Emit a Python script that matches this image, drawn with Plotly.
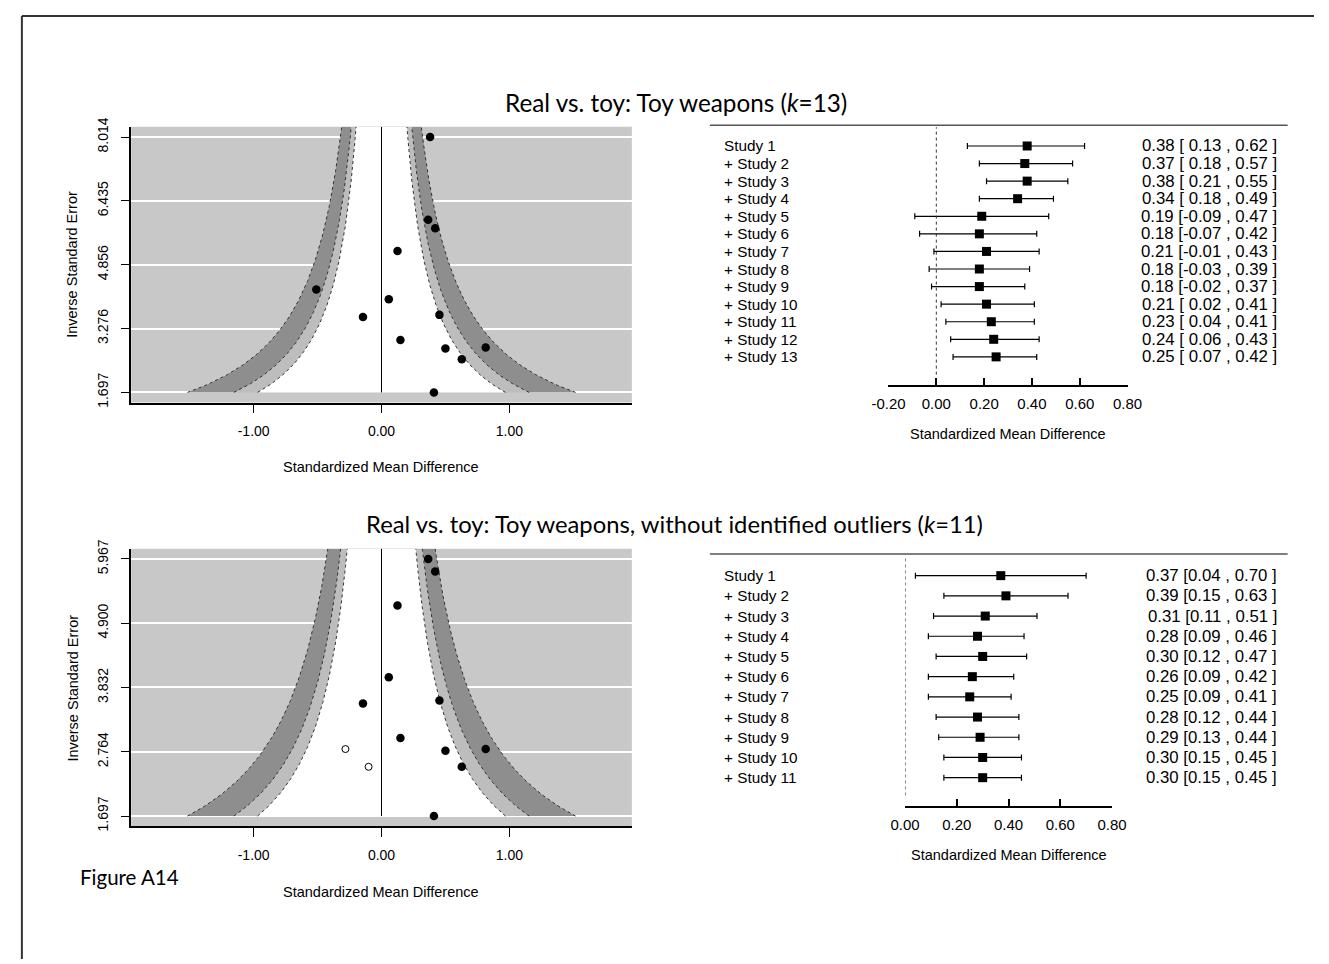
import numpy as np
import plotly.graph_objects as go

W, H = 1329, 964

# ---------------- data ----------------
# funnel plot (effect size, inverse standard error)
funnel_es = [0.38, 0.365, 0.42, 0.125, -0.51, 0.057, -0.145, 0.453, 0.148, 0.815, 0.50, 0.628, 0.41]
funnel_inv_se = [8.014, 5.967, 5.76, 5.195, 4.24, 4.003, 3.565, 3.615, 2.995, 2.81, 2.78, 2.515, 1.697]
outlier_idx = [0, 4]
filled_es = [-0.282, -0.101]
filled_inv_se = [2.81, 2.515]
top_funnel_ticks = [1.697, 3.276, 4.856, 6.435, 8.014]
bot_funnel_ticks = [1.697, 2.764, 3.832, 4.900, 5.967]
funnel_x_ticks = [-1.0, 0.0, 1.0]
contour_z = [1.645, 1.960, 2.576]  # 90%, 95%, 99%

# cumulative forest plots
top_labels = ["Study 1"] + ["+ Study %d" % i for i in range(2, 14)]
top_est = [0.38, 0.37, 0.38, 0.34, 0.19, 0.18, 0.21, 0.18, 0.18, 0.21, 0.23, 0.24, 0.25]
top_lo = [0.13, 0.18, 0.21, 0.18, -0.09, -0.07, -0.01, -0.03, -0.02, 0.02, 0.04, 0.06, 0.07]
top_hi = [0.62, 0.57, 0.55, 0.49, 0.47, 0.42, 0.43, 0.39, 0.37, 0.41, 0.41, 0.43, 0.42]
top_forest_ticks = [-0.2, 0.0, 0.2, 0.4, 0.6, 0.8]

bot_labels = ["Study 1"] + ["+ Study %d" % i for i in range(2, 12)]
bot_est = [0.37, 0.39, 0.31, 0.28, 0.30, 0.26, 0.25, 0.28, 0.29, 0.30, 0.30]
bot_lo = [0.04, 0.15, 0.11, 0.09, 0.12, 0.09, 0.09, 0.12, 0.13, 0.15, 0.15]
bot_hi = [0.70, 0.63, 0.51, 0.46, 0.47, 0.42, 0.41, 0.44, 0.44, 0.45, 0.45]
bot_forest_ticks = [0.0, 0.2, 0.4, 0.6, 0.8]

title_top = "Real vs. toy: Toy weapons (<i>k</i>=13)"
title_bot = "Real vs. toy: Toy weapons, without identified outliers (<i>k</i>=11)"

# ---------------- helpers ----------------
def fx(p):
    return p / W

def fy(p):
    return 1 - p / H

BG = "#c8c8c8"
DARK = "#8e8e8e"
LIGHT = "#bdbdbd"
FONT = "Liberation Sans, Arial, sans-serif"
TFONT = "Lato, Open Sans, sans-serif"
BLACK = "black"

fig = go.Figure()
annotations = []
shapes = []


def funnel(xa, ya, es, inv, ticks, filled=None):
    span = ticks[-1] - ticks[0]
    ytop = ticks[-1] + 0.04 * span
    ygrid = np.linspace(ticks[0], ytop, 300)
    shades = [(contour_z[2], DARK), (contour_z[1], LIGHT), (contour_z[0], "white")]
    for z, col in shades:
        xs = np.concatenate([-z / ygrid, (z / ygrid)[::-1]])
        ys = np.concatenate([ygrid, ygrid[::-1]])
        fig.add_trace(go.Scatter(x=xs, y=ys, fill="toself", fillcolor=col, mode="lines",
                                 line=dict(width=0), hoverinfo="skip", showlegend=False,
                                 xaxis=xa, yaxis=ya))
    for z in contour_z:
        for s in (-1, 1):
            fig.add_trace(go.Scatter(x=s * z / ygrid, y=ygrid, mode="lines",
                                     line=dict(color="#333333", width=1, dash="dot"),
                                     hoverinfo="skip", showlegend=False, xaxis=xa, yaxis=ya))
    fig.add_trace(go.Scatter(x=[0, 0], y=[ticks[0], ytop], mode="lines",
                             line=dict(color="black", width=1), showlegend=False,
                             xaxis=xa, yaxis=ya))
    fig.add_trace(go.Scatter(x=es, y=inv, mode="markers",
                             marker=dict(color="black", size=8.5, line=dict(width=0)),
                             showlegend=False, xaxis=xa, yaxis=ya, cliponaxis=False))
    if filled is not None:
        fig.add_trace(go.Scatter(x=filled[0], y=filled[1], mode="markers",
                                 marker=dict(color="white", size=7, line=dict(color="black", width=1)),
                                 showlegend=False, xaxis=xa, yaxis=ya, cliponaxis=False))
    return [ticks[0] - 0.04 * span, ytop]


def forest(xa, ya, labels, est, lo, hi, fmt):
    rows = list(range(1, len(labels) + 1))
    fig.add_trace(go.Scatter(
        x=est, y=rows, mode="markers",
        marker=dict(symbol="square", color="black", size=9, line=dict(width=0)),
        error_x=dict(type="data", symmetric=False,
                     array=[h - e for h, e in zip(hi, est)],
                     arrayminus=[e - l for e, l in zip(est, lo)],
                     color="black", thickness=1.2, width=3),
        showlegend=False, xaxis=xa, yaxis=ya, cliponaxis=False))
    texts = [fmt(e, l, h) for e, l, h in zip(est, lo, hi)]
    return rows, texts


# ---------------- funnels ----------------
yr1 = funnel("x", "y", funnel_es, funnel_inv_se, top_funnel_ticks)
keep = [i for i in range(len(funnel_es)) if i not in outlier_idx]
yr3 = funnel("x3", "y3", [funnel_es[i] for i in keep], [funnel_inv_se[i] for i in keep],
             bot_funnel_ticks, filled=(filled_es, filled_inv_se))

# ---------------- forests ----------------
NB = "\u00a0"
rows2, texts2 = forest("x2", "y2", top_labels, top_est, top_lo, top_hi,
                       lambda e, l, h: "%.2f [%s , %.2f ]" % (e, ("%5.2f" % l).replace(" ", NB), h))
rows4, texts4 = forest("x4", "y4", bot_labels, bot_est, bot_lo, bot_hi,
                       lambda e, l, h: "%.2f [%.2f , %.2f ]" % (e, l, h))


def row_range(first_px, last_px, n, top_px, bot_px):
    step = (last_px - first_px) / (n - 1)
    v_top = 1 + (top_px - first_px) / step
    v_bot = 1 + (bot_px - first_px) / step
    return [v_bot, v_top]

F1_TOP, F1_BOT = 118, 382
F2_TOP, F2_BOT = 553, 809
yr2 = row_range(139, 353, len(top_labels), F1_TOP, F1_BOT)
yr4 = row_range(575, 780, len(bot_labels), F2_TOP, F2_BOT)

LAB_SIZE = 15.3
CI_SIZE = 16.8
for i, (lab, txt) in enumerate(zip(top_labels, texts2)):
    y = 139 + i * (353 - 139) / (len(top_labels) - 1)
    annotations.append(dict(text=lab, x=fx(722), y=fy(y), xref="paper", yref="paper",
                            xanchor="left", yanchor="middle", showarrow=False,
                            font=dict(family=FONT, size=LAB_SIZE, color=BLACK)))
    annotations.append(dict(text=txt, x=fx(1293), y=fy(y), xref="paper", yref="paper",
                            xanchor="right", yanchor="middle", showarrow=False,
                            font=dict(family=FONT, size=CI_SIZE, color=BLACK)))
for i, (lab, txt) in enumerate(zip(bot_labels, texts4)):
    y = 575 + i * (780 - 575) / (len(bot_labels) - 1)
    annotations.append(dict(text=lab, x=fx(722), y=fy(y), xref="paper", yref="paper",
                            xanchor="left", yanchor="middle", showarrow=False,
                            font=dict(family=FONT, size=LAB_SIZE, color=BLACK)))
    annotations.append(dict(text=txt, x=fx(1293), y=fy(y), xref="paper", yref="paper",
                            xanchor="right", yanchor="middle", showarrow=False,
                            font=dict(family=FONT, size=CI_SIZE, color=BLACK)))

# header lines and zero reference lines of forests
shapes.append(dict(type="line", xref="paper", yref="paper", x0=fx(710), x1=fx(1302),
                   y0=fy(F1_TOP), y1=fy(F1_TOP), line=dict(color="#555", width=1.5)))
shapes.append(dict(type="line", xref="paper", yref="paper", x0=fx(710), x1=fx(1302),
                   y0=fy(F2_TOP), y1=fy(F2_TOP), line=dict(color="#555", width=1.5)))
shapes.append(dict(type="line", xref="x2", yref="paper", x0=0, x1=0,
                   y0=fy(371), y1=fy(F1_TOP + 2), line=dict(color="#333", width=1, dash="dot")))
shapes.append(dict(type="line", xref="x4", yref="paper", x0=0, x1=0,
                   y0=fy(798), y1=fy(F2_TOP + 2), line=dict(color="#333", width=1, dash="dot")))

# funnel gray backgrounds
for xr, yrf in (("x", "y"), ("x3", "y3")):
    shapes.append(dict(type="rect", xref=xr + " domain", yref=yrf + " domain", x0=0, x1=1, y0=0, y1=1,
                       fillcolor=BG, line=dict(width=0), layer="below"))

# page border (top and left)
shapes.append(dict(type="line", xref="paper", yref="paper", x0=fx(5), x1=1, y0=fy(7), y1=fy(7),
                   line=dict(color="#333", width=2)))
shapes.append(dict(type="line", xref="paper", yref="paper", x0=fx(5), x1=fx(5), y0=0, y1=fy(7),
                   line=dict(color="#333", width=2)))

TXT = dict(family=FONT, size=14.5, color=BLACK)
annotations += [
    dict(text=title_top, x=fx(675), y=fy(95), xref="paper", yref="paper", showarrow=False,
         xanchor="center", yanchor="middle", font=dict(family=TFONT, size=24.3, color=BLACK)),
    dict(text=title_bot, x=fx(674), y=fy(523), xref="paper", yref="paper", showarrow=False,
         xanchor="center", yanchor="middle", font=dict(family=TFONT, size=23.8, color=BLACK)),
    dict(text="Figure A14", x=fx(62), y=fy(881), xref="paper", yref="paper", showarrow=False,
         xanchor="left", yanchor="middle", font=dict(family=TFONT, size=20.5, color=BLACK)),
    dict(text="Standardized Mean Difference", x=fx(373), y=fy(465), xref="paper", yref="paper",
         showarrow=False, xanchor="center", yanchor="middle", font=TXT),
    dict(text="Standardized Mean Difference", x=fx(373), y=fy(896), xref="paper", yref="paper",
         showarrow=False, xanchor="center", yanchor="middle", font=TXT),
    dict(text="Standardized Mean Difference", x=fx(1015), y=fy(431), xref="paper", yref="paper",
         showarrow=False, xanchor="center", yanchor="middle", font=TXT),
    dict(text="Standardized Mean Difference", x=fx(1016), y=fy(858), xref="paper", yref="paper",
         showarrow=False, xanchor="center", yanchor="middle", font=TXT),
    dict(text="Inverse Standard Error", x=fx(57), y=fy(259), xref="paper", yref="paper",
         showarrow=False, textangle=-90, xanchor="center", yanchor="middle", font=TXT),
    dict(text="Inverse Standard Error", x=fx(57), y=fy(689), xref="paper", yref="paper",
         showarrow=False, textangle=-90, xanchor="center", yanchor="middle", font=TXT),
]

tickfont = dict(family=FONT, size=14, color=BLACK)
fx_dom = [fx(117), fx(630)]
fxr = [-1.958, 1.958]


def funnel_xaxis(anchor):
    return dict(domain=fx_dom, range=fxr, anchor=anchor, showline=True, linecolor="black", linewidth=1.5,
                ticks="outside", ticklen=9, tickcolor="black", tickwidth=1.2, tickvals=funnel_x_ticks,
                ticktext=["%.2f" % v for v in funnel_x_ticks], tickfont=tickfont, showgrid=False,
                zeroline=False, ticklabelstandoff=6)


def funnel_yaxis(anchor, dom, rng, ticks):
    return dict(domain=dom, range=rng, anchor=anchor, showline=True, linecolor="black", linewidth=1.5,
                ticks="outside", ticklen=8, tickcolor="black", tickwidth=1.2, tickvals=ticks,
                ticktext=["%.3f" % v for v in ticks], tickfont=tickfont, tickangle=-90,
                showgrid=True, gridcolor="white", gridwidth=2, zeroline=False, ticklabelstandoff=8)


def forest_xaxis(anchor, px0, px1, ticks):
    return dict(domain=[fx(px0), fx(px1)], range=[ticks[0], ticks[-1]], anchor=anchor, showline=True,
                linecolor="black", linewidth=1.5, ticks="inside", ticklen=8, tickcolor="black", tickwidth=1.5,
                tickvals=ticks, ticktext=["%.2f" % v for v in ticks],
                tickfont=dict(family=FONT, size=15, color=BLACK), showgrid=False, zeroline=False,
                ticklabelstandoff=4)


def forest_yaxis(anchor, top_px, bot_px, rng):
    return dict(domain=[fy(bot_px), fy(top_px)], range=rng, anchor=anchor, visible=False,
                showgrid=False, zeroline=False)


fig.update_layout(
    width=W, height=H, margin=dict(l=0, r=0, t=0, b=0),
    paper_bgcolor="white", plot_bgcolor="rgba(0,0,0,0)",
    font=dict(family=FONT, color=BLACK),
    showlegend=False,
    xaxis=funnel_xaxis("y"),
    yaxis=funnel_yaxis("x", [fy(399.4), fy(119.6)], yr1, top_funnel_ticks),
    xaxis3=funnel_xaxis("y3"),
    yaxis3=funnel_yaxis("x3", [fy(829.4), fy(547.6)], yr3, bot_funnel_ticks),
    xaxis2=forest_xaxis("y2", 893, 1138, top_forest_ticks),
    yaxis2=forest_yaxis("x2", F1_TOP, F1_BOT, yr2),
    xaxis4=forest_xaxis("y4", 910, 1122, bot_forest_ticks),
    yaxis4=forest_yaxis("x4", F2_TOP, F2_BOT, yr4),
    annotations=annotations,
    shapes=shapes,
)

fig.write_html("out.html")
